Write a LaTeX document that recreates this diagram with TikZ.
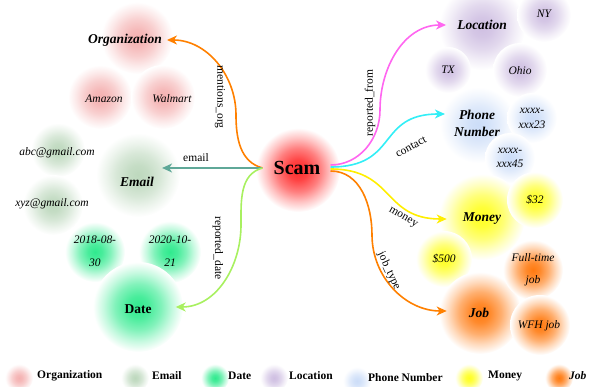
\documentclass[tikz,border=0pt]{standalone}
\usepackage{fontspec}
\setmainfont{Liberation Serif}
\usetikzlibrary{arrows.meta}

% soft round blob behind every entity
\colorlet{blobcol}{red}
\pgfdeclareradialshading[blobcol]{blobshade}{\pgfpointorigin}{color(0bp)=(blobcol); color(6bp)=(blobcol!88!white); color(13bp)=(blobcol!60!white); color(19bp)=(blobcol!28!white); color(25bp)=(white); color(50bp)=(white)}

\definecolor{orgc}{HTML}{F4B0B0}
\definecolor{emc}{HTML}{BDD8BD}
\definecolor{datec}{HTML}{30EA8E}
\definecolor{locc}{HTML}{CFBFE2}
\definecolor{phc}{HTML}{CCDDF8}
\definecolor{monc}{HTML}{FFFF20}
\definecolor{jobc}{HTML}{FF7A10}
\definecolor{scamc}{HTML}{FF2A2A}
\definecolor{orangeline}{HTML}{FF8000}
\definecolor{tealline}{HTML}{5FA898}
\definecolor{greenline}{HTML}{A8F060}
\definecolor{pinkline}{HTML}{FF66F0}
\definecolor{cyanline}{HTML}{33EEF6}
\definecolor{yellowline}{HTML}{FFEE00}

\tikzset{
  blob/.style={/utils/exec={\colorlet{blobcol}{#1}}, shading=blobshade},
  cat/.style={inner sep=1pt, font=\fontsize{13.5}{15}\selectfont\bfseries\itshape},
  ent/.style={inner sep=1pt, font=\fontsize{11.5}{13}\selectfont\itshape},
  elabel/.style={inner sep=1pt, font=\fontsize{11.5}{13}\selectfont},
  legtext/.style={inner sep=0pt, anchor=west, font=\fontsize{11.5}{13}\selectfont\bfseries},
  edge/.style={line width=1.6pt, draw=#1, -{Stealth[length=10pt, width=9pt, inset=3pt]}}
}

\begin{document}
\begin{tikzpicture}[x=1pt, y=-1pt]
    \useasboundingbox (0,0) rectangle (595,387);

    % Blobs
    \shade [blob=orgc] (137,38) circle (36);
    \shade [blob=orgc] (100,97) circle (32);
    \shade [blob=orgc] (163,97) circle (32);
    \shade [blob=emc] (58,150) circle (27);
    \shade [blob=emc] (138,175) circle (42);
    \shade [blob=emc] (53,205) circle (30);
    \shade [blob=datec] (95,252) circle (30);
    \shade [blob=datec] (170,252) circle (31);
    \shade [blob=datec] (138,307) circle (45);
    \shade [blob=locc] (482,27) circle (43);
    \shade [blob=locc] (544,15) circle (27);
    \shade [blob=locc] (448,70) circle (23);
    \shade [blob=locc] (520,70) circle (27);
    \shade [blob=phc] (478,125) circle (38);
    \shade [blob=phc] (532,118) circle (25);
    \shade [blob=phc] (510,158) circle (25);
    \shade [blob=monc] (482,217) circle (43);
    \shade [blob=monc] (535,200) circle (28);
    \shade [blob=monc] (444,259) circle (28);
    \shade [blob=jobc] (480,313) circle (41);
    \shade [blob=jobc] (533,270) circle (30);
    \shade [blob=jobc] (540,325) circle (30);
    \shade [blob=scamc] (298,170) circle (42);

    % Entities
    \node [inner sep=1pt, font=\fontsize{20}{22}\selectfont\bfseries] (scam) at (297,168) {Scam};
    \node [cat] (org) at (125,40) {Organization};
    \node [ent] (amazon) at (104,99) {Amazon};
    \node [ent] (walmart) at (172,99) {Walmart};
    \node [ent] (abc) at (57,153) {abc@gmail.com};
    \node [cat] (email) at (137,182) {Email};
    \node [ent] (xyz) at (52,204) {xyz@gmail.com};
    \node [ent, align=center, font=\fontsize{11.5}{23}\selectfont\itshape] (d1) at (95,251) {2018-08-\\30};
    \node [ent, align=center, font=\fontsize{11.5}{23}\selectfont\itshape] (d2) at (170,251) {2020-10-\\21};
    \node [inner sep=1pt, font=\fontsize{13.5}{15}\selectfont\bfseries] (date) at (138,309) {Date};
    \node [cat] (loc) at (482,25) {Location};
    \node [ent] (ny) at (544,14) {NY};
    \node [ent] (tx) at (448,70) {TX};
    \node [ent] (ohio) at (520,71) {Ohio};
    \node [cat, align=center, font=\fontsize{13.5}{17}\selectfont\bfseries\itshape] (phone) at (477,123) {Phone\\Number};
    \node [ent, align=center, font=\fontsize{11.5}{15}\selectfont\itshape] (p23) at (532,118) {xxxx-\\xxx23};
    \node [ent, align=center, font=\fontsize{11.5}{14}\selectfont\itshape] (p45) at (510,158) {xxxx-\\xxx45};
    \node [cat] (money) at (482,219) {Money};
    \node [ent] (m32) at (535,200) {\$32};
    \node [ent] (m500) at (444,259) {\$500};
    \node [cat] (job) at (479,313) {Job};
    \node [ent, align=center, font=\fontsize{11.5}{22}\selectfont\itshape] (fulltime) at (533,270) {Full-time\\job};
    \node [ent] (wfh) at (539,326) {WFH job};

    % Relations
    \coordinate (sL) at ([xshift=-10pt]scam.west);
    \coordinate (sR) at ([xshift=9pt,yshift=-1pt]scam.east);
    \draw [edge=orangeline] (sL) to[out=165,in=-90] (236,115) to[out=90,in=0] ([xshift=4pt]org.east);
    \draw [edge=tealline] (sL) -- ([xshift=7pt,yshift=14pt]email.east);
    \draw [edge=greenline] (sL) to[out=195,in=90] (241,225) to[out=-90,in=0] ([xshift=23pt,yshift=2pt]date.east);
    \draw [edge=pinkline] ([yshift=4pt]sR) to[out=0,in=-90] (380,110) to[out=90,in=180] ([xshift=-10pt]loc.west);
    \draw [edge=cyanline] ([yshift=2pt]sR) to[out=0,in=180,looseness=1.4] ([xshift=-8pt,yshift=9pt]phone.west);
    \draw [edge=yellowline] (sR) to[out=0,in=180,looseness=1.3] ([xshift=-15pt]money.west);
    \draw [edge=orangeline] ([yshift=-2pt]sR) to[out=0,in=90] (372,235) to[out=-90,in=180] ([xshift=-21pt,yshift=2pt]job.west);

    % Relation labels
    \node [elabel, rotate=-90] (lmentions) at (220,97) {mentions\_org};
    \node [elabel] (lemail) at (196,158) {email};
    \node [elabel, rotate=-90] (ldate) at (218,248) {reported\_date};
    \node [elabel, rotate=90] (lfrom) at (370,103) {reported\_from};
    \node [elabel, rotate=28] (lcontact) at (411,147) {contact};
    \node [elabel, rotate=-30] (lmoney) at (403,218) {money};
    \node [elabel, rotate=-65] (ljob) at (389,271) {job\_type};

    % Legend
    \shade [blob=orgc] (19,378) circle (14);
    \node [legtext] (kOrg) at (37,376) {Organization};
    \shade [blob=emc] (135,378) circle (14);
    \node [legtext] (kEmail) at (152,376) {Email};
    \shade [blob=datec] (215,378) circle (14);
    \node [legtext] (kDate) at (228,376) {Date};
    \shade [blob=locc] (274,378) circle (14);
    \node [legtext] (kLoc) at (289,376) {Location};
    \shade [blob=phc] (357,381) circle (14);
    \node [legtext] (kPhone) at (368,378) {Phone Number};
    \shade [blob=monc] (469,378) circle (14);
    \node [legtext] (kMoney) at (488,376) {Money};
    \shade [blob=jobc] (559,378) circle (14);
    \node [legtext, font=\fontsize{11.5}{13}\selectfont\bfseries\itshape] (kJob) at (569,376) {Job};
\end{tikzpicture}
\end{document}
